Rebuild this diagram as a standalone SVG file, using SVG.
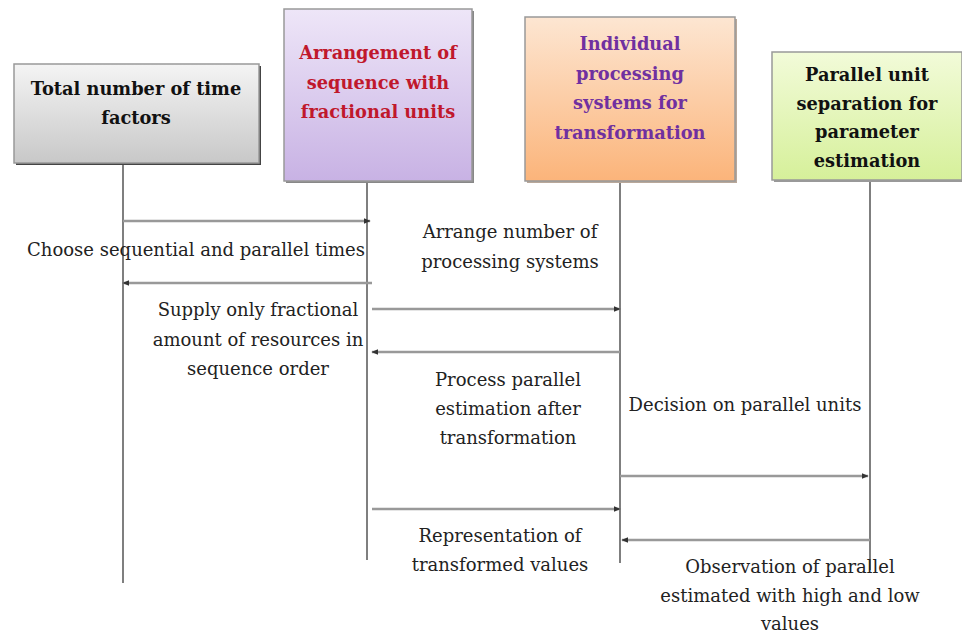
<svg xmlns="http://www.w3.org/2000/svg" width="962" height="633" viewBox="0 0 962 633">
<style>
.hd{font-family:"DejaVu Serif","Liberation Serif",serif;font-weight:bold;font-size:17.8px;text-anchor:middle}
.lb{font-family:"DejaVu Serif","Liberation Serif",serif;font-size:18px;fill:#222;text-anchor:middle}
.life{stroke:#555;stroke-width:1.5;fill:none}
.msg{stroke:#999;stroke-width:2.5;fill:none}
.box{stroke:#999;stroke-width:1.5}
.shadow{fill:#444}
</style>
<defs>
<linearGradient id="gGray" x1="0" y1="0" x2="0" y2="1"><stop offset="0" stop-color="#f4f4f4"/><stop offset="1" stop-color="#c8c8c8"/></linearGradient>
<linearGradient id="gLav" x1="0" y1="0" x2="0" y2="1"><stop offset="0" stop-color="#eee6f8"/><stop offset="1" stop-color="#c8b2e4"/></linearGradient>
<linearGradient id="gPeach" x1="0" y1="0" x2="0" y2="1"><stop offset="0" stop-color="#fde6d2"/><stop offset="1" stop-color="#fbb47a"/></linearGradient>
<linearGradient id="gGreen" x1="0" y1="0" x2="0" y2="1"><stop offset="0" stop-color="#f2fbd9"/><stop offset="1" stop-color="#d6f09a"/></linearGradient>
<marker id="ah" viewBox="0 0 10 10" refX="9" refY="5" markerWidth="7" markerHeight="7" markerUnits="userSpaceOnUse" orient="auto"><path d="M0,1 L10,5 L0,9 Z" fill="#333"/></marker>
</defs>

<g id="node-time-factors">
<rect class="shadow" x="16" y="66" width="245" height="99"/>
<rect class="box" x="14" y="64" width="245" height="99" fill="url(#gGray)"/>
<text class="hd" fill="#111" x="136" y="95">Total number of time</text>
<text class="hd" fill="#111" x="136" y="124">factors</text>
</g>
<g id="node-arrangement">
<rect fill="#888" x="286" y="11" width="188" height="172"/>
<rect class="box" x="284" y="9" width="188" height="172" fill="url(#gLav)"/>
<text class="hd" fill="#c0182c" x="378" y="59">Arrangement of</text>
<text class="hd" fill="#c0182c" x="378" y="89">sequence with</text>
<text class="hd" fill="#c0182c" x="378" y="118">fractional units</text>
</g>
<g id="node-processing">
<rect fill="#b9a89a" x="527" y="19" width="210" height="164"/>
<rect class="box" x="525" y="17" width="210" height="164" fill="url(#gPeach)"/>
<text class="hd" fill="#7030a0" x="630" y="50">Individual</text>
<text class="hd" fill="#7030a0" x="630" y="80">processing</text>
<text class="hd" fill="#7030a0" x="630" y="109">systems for</text>
<text class="hd" fill="#7030a0" x="630" y="139">transformation</text>
</g>
<g id="node-parallel">
<rect fill="#999" x="774" y="54" width="190" height="128"/>
<rect class="box" x="772" y="52" width="190" height="128" fill="url(#gGreen)"/>
<text class="hd" fill="#111" x="867" y="81">Parallel unit</text>
<text class="hd" fill="#111" x="867" y="110">separation for</text>
<text class="hd" fill="#111" x="867" y="138">parameter</text>
<text class="hd" fill="#111" x="867" y="167">estimation</text>
</g>

<g id="connectors">
<line class="life" x1="123" y1="165" x2="123" y2="583"/>
<line class="life" x1="367" y1="183" x2="367" y2="560"/>
<line class="life" x1="620" y1="183" x2="620" y2="563"/>
<line class="life" x1="870" y1="182" x2="870" y2="570"/>
<line class="msg" x1="123" y1="221" x2="370" y2="221" marker-end="url(#ah)"/>
<line class="msg" x1="372" y1="283" x2="123" y2="283" marker-end="url(#ah)"/>
<line class="msg" x1="372" y1="309" x2="620" y2="309" marker-end="url(#ah)"/>
<line class="msg" x1="620" y1="352" x2="372" y2="352" marker-end="url(#ah)"/>
<line class="msg" x1="620" y1="476" x2="868" y2="476" marker-end="url(#ah)"/>
<line class="msg" x1="372" y1="509" x2="620" y2="509" marker-end="url(#ah)"/>
<line class="msg" x1="870" y1="540" x2="622" y2="540" marker-end="url(#ah)"/>
</g>

<g id="labels">
<text class="lb" x="196" y="256">Choose sequential and parallel times</text>
<text class="lb" x="258" y="316">Supply only fractional</text>
<text class="lb" x="258" y="346">amount of resources in</text>
<text class="lb" x="258" y="375">sequence order</text>
<text class="lb" x="510" y="238">Arrange number of</text>
<text class="lb" x="510" y="268">processing systems</text>
<text class="lb" x="508" y="386">Process parallel</text>
<text class="lb" x="508" y="415">estimation after</text>
<text class="lb" x="508" y="444">transformation</text>
<text class="lb" x="745" y="411">Decision on parallel units</text>
<text class="lb" x="500" y="542">Representation of</text>
<text class="lb" x="500" y="571">transformed values</text>
<text class="lb" x="790" y="573">Observation of parallel</text>
<text class="lb" x="790" y="602">estimated with high and low</text>
<text class="lb" x="790" y="630">values</text>
</g>
</svg>
